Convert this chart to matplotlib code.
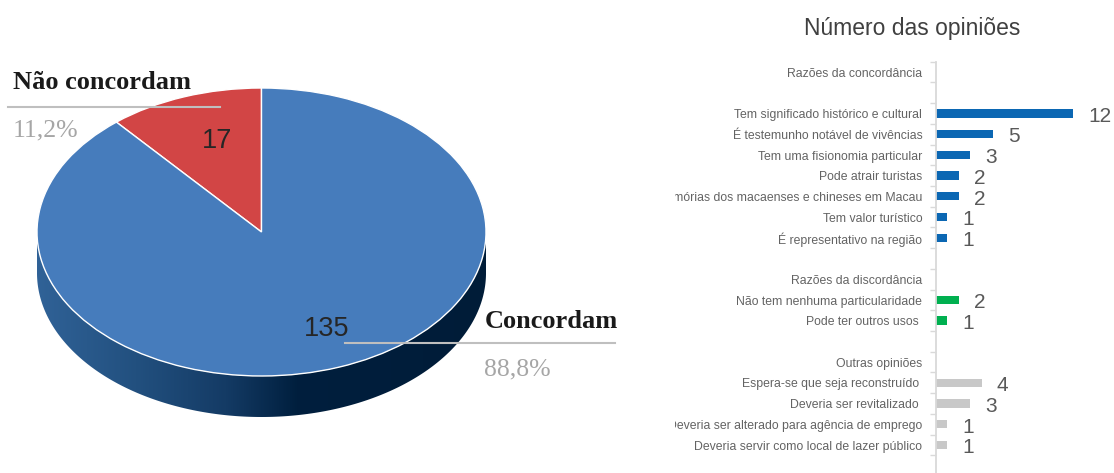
import numpy as np
import matplotlib
matplotlib.use('Agg')
import matplotlib.pyplot as plt
from matplotlib.colors import LinearSegmentedColormap
from matplotlib.patches import Polygon

# ---- pie data
pie_labels = ['Não concordam', 'Concordam']
pie_values = [17, 135]
pie_colors = ['#d24545', '#467cbc']

# ---- bar data
group_titles = ['Razões da concordância', 'Razões da discordância', 'Outras opiniões']
group_colors = ['#0b67b3', '#00b050', '#c8c8c8']

concord_labels = ['Tem significado histórico e cultural',
                  'É testemunho notável de vivências',
                  'Tem uma fisionomia particular',
                  'Pode atrair turistas',
                  'Memórias dos macaenses e chineses em Macau',
                  'Tem valor turístico',
                  'É representativo na região']
concord_values = [12, 5, 3, 2, 2, 1, 1]

discord_labels = ['Não tem nenhuma particularidade', 'Pode ter outros usos ']
discord_values = [2, 1]

outras_labels = ['Espera-se que seja reconstruído ',
                 'Deveria ser revitalizado ',
                 'Deveria ser alterado para agência de emprego',
                 'Deveria servir como local de lazer público']
outras_values = [4, 3, 1, 1]

W, H = 1114, 473
GRAY = '#595959'


def rect(x0, y0, x1, y1):
    # pixel box, origin top-left -> figure fraction rect
    return [x0 / W, 1 - y1 / H, (x1 - x0) / W, (y1 - y0) / H]


fig = plt.figure(figsize=(W / 100, H / 100), dpi=100)

#
# Pie (drawn as a flattened 3D disc)
#
cx, cy, ra, rb = 261.5, 232, 224.5, 144
depth = 41 / rb


def P(px, py):
    return (px - cx) / ra, (cy - py) / rb


ax = fig.add_axes([0, 0, 640 / W, 1])

t = np.linspace(np.pi, 2 * np.pi, 300)
side = np.vstack([np.column_stack([np.cos(t), np.sin(t)]),
                  np.column_stack([np.cos(t[::-1]), np.sin(t[::-1]) - depth])])
side_patch = Polygon(side, closed=True, transform=ax.transData)

side_cmap = LinearSegmentedColormap.from_list(
    'side', [(0, '#306297'), (0.22, '#22507f'), (0.42, '#143b65'),
             (0.58, '#001f3e'), (1, '#001c38')])
grad = np.linspace(0, 1, 256).reshape(1, -1)
im = ax.imshow(grad, extent=(-1, 1, -1 - depth, 0), aspect='auto',
               cmap=side_cmap, zorder=1)
im.set_clip_path(side_patch)

wedges, _ = ax.pie(pie_values, colors=pie_colors, startangle=90,
                   counterclock=True,
                   wedgeprops=dict(edgecolor='white', linewidth=1.0, zorder=2))
ax.set_aspect('auto')
ax.set_xlim(P(0, 0)[0], P(640, 0)[0])
ax.set_ylim(P(0, H)[1], P(0, 0)[1])
ax.axis('off')

total = sum(pie_values)
pct = [('%.1f' % (v / total * 100)).replace('.', ',') + '%' for v in pie_values]

serif = 'Liberation Serif'
sans = 'Liberation Sans'

# Não concordam
ax.text(*P(13, 89), pie_labels[0], fontfamily=serif, fontweight='bold',
        fontsize=19, color='#1a1a1a', ha='left', va='baseline')
x0, y0 = P(8, 107)
x1, _ = P(220, 107)
ax.plot([x0, x1], [y0, y0], color='#bfbfbf', lw=1.5, zorder=3)
ax.text(*P(13, 136), pct[0], fontfamily=serif, fontsize=18.5,
        color='#a6a6a6', ha='left', va='baseline')
ax.text(*P(217, 148), str(pie_values[0]), fontfamily=sans, fontsize=19.5,
        color='#262626', ha='center', va='baseline', zorder=4)

# Concordam
ax.text(*P(485, 328), pie_labels[1], fontfamily=serif, fontweight='bold',
        fontsize=19, color='#1a1a1a', ha='left', va='baseline')
x0, y0 = P(345, 343)
x1, _ = P(615, 343)
ax.plot([x0, x1], [y0, y0], color='#bfbfbf', lw=1.5, zorder=3)
ax.text(*P(484, 375), pct[1], fontfamily=serif, fontsize=18.5,
        color='#a6a6a6', ha='left', va='baseline')
ax.text(*P(327, 336), str(pie_values[1]), fontfamily=sans, fontsize=19.5,
        color='#262626', ha='center', va='baseline', zorder=4)

#
# Bar chart of the opinions
#
rows = [(group_titles[0], None, None), ('', None, None)]
rows += [(l, v, group_colors[0]) for l, v in zip(concord_labels, concord_values)]
rows += [('', None, None), (group_titles[1], None, None)]
rows += [(l, v, group_colors[1]) for l, v in zip(discord_labels, discord_values)]
rows += [('', None, None), (group_titles[2], None, None)]
rows += [(l, v, group_colors[2]) for l, v in zip(outras_labels, outras_values)]

pitch = 20.72
top = 72 - pitch / 2
ppu = 11.4
x_axis = 936

bx = fig.add_axes(rect(675, top, W, H))
bx.set_xlim((675 - x_axis) / ppu, (W - x_axis) / ppu)
bx.set_ylim(-0.5 + (H - top) / pitch, -0.5)

for i, (label, value, color) in enumerate(rows):
    if label:
        bx.text(-1.2, i + 0.08, label, fontfamily=sans, fontsize=8.8,
                color='#636363', ha='right', va='center', clip_on=True)
    if value is not None:
        bx.barh(i, value, height=0.4, color=color, left=0)
        bx.text(value + 1.35, i + 0.4, str(value), fontfamily=sans,
                fontsize=15, color=GRAY, ha='left', va='baseline')

for s in ['top', 'right', 'bottom']:
    bx.spines[s].set_visible(False)
bx.spines['left'].set_position(('data', 0))
bx.spines['left'].set_color('#d9d9d9')
bx.spines['left'].set_linewidth(1.3)
bx.set_yticks(np.arange(-0.5, len(rows), 1.0))
bx.tick_params(axis='y', direction='out', length=4, width=1.0,
               color='#d9d9d9', labelleft=False)
bx.set_xticks([])
bx.patch.set_visible(False)

fig.text(912 / W, 1 - 28 / H, 'Número das opiniões', fontfamily=sans,
         fontsize=16.5, color='#404040', ha='center', va='center')

fig.savefig('out.png', dpi=100)
